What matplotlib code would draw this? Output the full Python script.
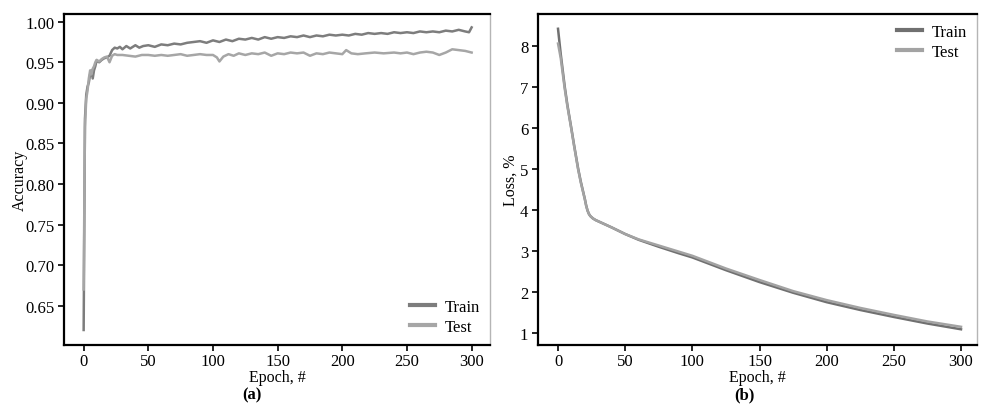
import matplotlib
matplotlib.use("Agg")
import matplotlib.pyplot as plt

plt.rcParams['font.family'] = ['Liberation Serif', 'DejaVu Serif']
plt.rcParams['mathtext.fontset'] = 'stix'

# ---- Accuracy data (panel a) ----
acc_train_epochs = [0, 1, 2, 3, 4, 5, 6, 7, 8, 9, 10, 12, 14, 16, 18, 20, 22, 24, 26, 28, 30, 33, 36, 40,
                    43, 46, 50, 55, 60, 65, 70, 75, 80, 85, 90, 95, 100, 105, 110, 115, 120, 125, 130,
                    135, 140, 145, 150, 155, 160, 165, 170, 175, 180, 185, 190, 195, 200, 205, 210, 215,
                    220, 225, 230, 235, 240, 245, 250, 255, 260, 265, 270, 275, 280, 285, 290, 295, 298, 300]
acc_train = [0.62, 0.88, 0.91, 0.92, 0.925, 0.935, 0.94, 0.93, 0.94, 0.945, 0.952, 0.95, 0.953, 0.955,
             0.956, 0.958, 0.965, 0.968, 0.967, 0.969, 0.966, 0.970, 0.967, 0.971, 0.968, 0.970, 0.971,
             0.969, 0.972, 0.971, 0.973, 0.972, 0.974, 0.975, 0.976, 0.974, 0.977, 0.975, 0.978, 0.976,
             0.979, 0.978, 0.980, 0.978, 0.981, 0.979, 0.981, 0.980, 0.982, 0.981, 0.983, 0.981, 0.983,
             0.982, 0.984, 0.983, 0.984, 0.983, 0.985, 0.984, 0.986, 0.985, 0.986, 0.985, 0.987, 0.986,
             0.987, 0.986, 0.988, 0.987, 0.988, 0.987, 0.989, 0.988, 0.990, 0.988, 0.987, 0.993]

acc_test_epochs = [0, 1, 2, 3, 4, 5, 6, 7, 8, 9, 10, 12, 14, 16, 18, 20, 22, 24, 26, 30, 35, 40, 45, 50,
                   55, 60, 65, 70, 75, 80, 85, 90, 95, 100, 103, 105, 108, 112, 116, 120, 125, 130, 135,
                   140, 145, 150, 155, 160, 165, 170, 175, 180, 185, 190, 195, 200, 203, 207, 212, 218,
                   225, 232, 240, 245, 250, 255, 260, 265, 270, 275, 280, 285, 290, 295, 300]
acc_test = [0.67, 0.87, 0.905, 0.915, 0.93, 0.94, 0.935, 0.942, 0.945, 0.95, 0.953, 0.951, 0.954, 0.956,
            0.957, 0.950, 0.958, 0.960, 0.959, 0.959, 0.958, 0.957, 0.959, 0.959, 0.958, 0.959, 0.958,
            0.959, 0.960, 0.958, 0.959, 0.960, 0.959, 0.959, 0.956, 0.951, 0.957, 0.960, 0.958, 0.961,
            0.959, 0.961, 0.960, 0.962, 0.958, 0.961, 0.960, 0.962, 0.961, 0.962, 0.958, 0.961, 0.960,
            0.962, 0.961, 0.960, 0.965, 0.961, 0.960, 0.961, 0.962, 0.961, 0.962, 0.961, 0.962, 0.960,
            0.962, 0.963, 0.962, 0.959, 0.962, 0.966, 0.965, 0.964, 0.962]

# ---- Loss data (panel b) ----
loss_epochs = [0, 2, 5, 7, 10, 12, 15, 17, 20, 21, 22, 23, 24, 26, 28, 30, 40, 50, 60, 75, 90, 100,
               125, 150, 175, 200, 225, 250, 275, 300]
loss_train = [8.41, 7.80, 7.00, 6.55, 5.97, 5.57, 5.00, 4.68, 4.26, 4.10, 3.98, 3.90, 3.85, 3.79, 3.75,
              3.72, 3.57, 3.41, 3.27, 3.10, 2.94, 2.84, 2.53, 2.24, 1.98, 1.75, 1.56, 1.39, 1.23, 1.09]
loss_test = [8.05, 7.70, 6.95, 6.52, 5.95, 5.55, 4.98, 4.66, 4.25, 4.09, 3.98, 3.90, 3.85, 3.79, 3.75,
             3.72, 3.57, 3.41, 3.28, 3.13, 2.98, 2.88, 2.57, 2.29, 2.02, 1.80, 1.61, 1.44, 1.28, 1.15]

acc_yticks = [0.65, 0.70, 0.75, 0.80, 0.85, 0.90, 0.95, 1.00]
loss_yticks = [1, 2, 3, 4, 5, 6, 7, 8]
xticks = [0, 50, 100, 150, 200, 250, 300]

fig = plt.figure(figsize=(9.86, 4.06), dpi=100)
ax1 = fig.add_axes([64/986, 60/406, 426/986, 331/406])
ax2 = fig.add_axes([538/986, 60/406, 439/986, 331/406])

c_train_a = '#7d7d7d'
c_test_a = '#a6a6a6'
c_train_b = '#707070'
c_test_b = '#a3a3a3'

ax1.plot(acc_train_epochs, acc_train, color=c_train_a, lw=1.8, label='Train')
ax1.plot(acc_test_epochs, acc_test, color=c_test_a, lw=1.8, label='Test')
ax1.set_xlim(-15.2, 314.2)
ax1.set_ylim(0.6015, 1.0095)
ax1.set_yticks(acc_yticks)
ax1.set_yticklabels([f'{v:.2f}' for v in acc_yticks])
ax1.set_ylabel('Accuracy', fontsize=11.5, labelpad=-2)

ax2.plot(loss_epochs, loss_train, color=c_train_b, lw=1.8, label='Train')
ax2.plot(loss_epochs, loss_test, color=c_test_b, lw=1.8, label='Test')
ax2.set_xlim(-14.9, 311.9)
ax2.set_ylim(0.707, 8.77)
ax2.set_yticks(loss_yticks)
ax2.set_ylabel('Loss, %', fontsize=11.5, labelpad=1)

for ax in (ax1, ax2):
    ax.set_xticks(xticks)
    ax.set_xlabel('Epoch, #', fontsize=11.5, labelpad=0)
    ax.tick_params(axis='both', labelsize=12, length=4, width=1.2, direction='out', color='black', pad=3)
    ax.tick_params(axis='x', pad=1.5)
    for s in ('left', 'bottom', 'top'):
        ax.spines[s].set_color('black')
        ax.spines[s].set_linewidth(1.6)
    ax.spines['right'].set_color('#b5b5b5')
    ax.spines['right'].set_linewidth(1.0)

leg1 = ax1.legend(loc='lower right', frameon=False, fontsize=12, handlelength=1.5,
                  handletextpad=0.6, labelspacing=0.25, borderaxespad=0.2)
leg2 = ax2.legend(loc='upper right', frameon=False, fontsize=12, handlelength=1.5,
                  handletextpad=0.6, labelspacing=0.25, borderaxespad=0.2)
for leg in (leg1, leg2):
    for h in leg.get_lines():
        h.set_linewidth(3.0)

fig.text(252/986, 1 - 395/406, '(a)', ha='center', va='center', fontsize=12, fontweight='bold')
fig.text(744/986, 1 - 395/406, '(b)', ha='center', va='center', fontsize=12, fontweight='bold')

fig.savefig('out.png', dpi=100)
